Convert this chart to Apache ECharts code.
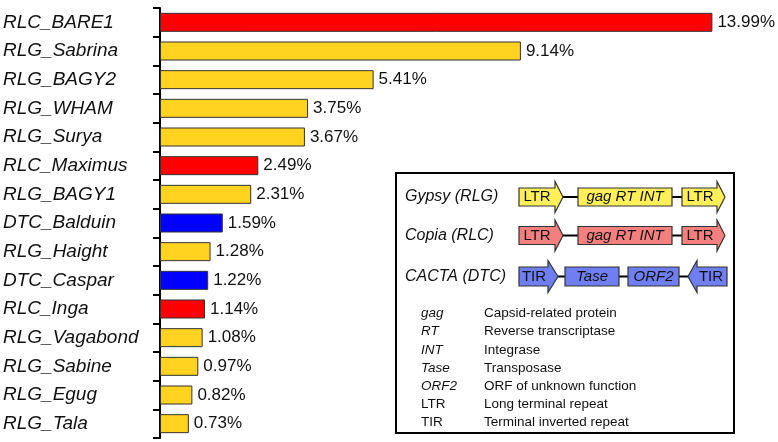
<!DOCTYPE html>
<html>
<head>
<meta charset="utf-8">
<script src="https://cdn.jsdelivr.net/npm/echarts@6/dist/echarts.min.js"></script>
<style>html,body{margin:0;padding:0;background:#fff}#c{width:778px;height:442px}</style>
</head>
<body>
<div id="c"></div>
<script>
const categories = ['RLC_BARE1','RLG_Sabrina','RLG_BAGY2','RLG_WHAM','RLG_Surya','RLC_Maximus','RLG_BAGY1','DTC_Balduin','RLG_Haight','DTC_Caspar','RLC_Inga','RLG_Vagabond','RLG_Sabine','RLG_Egug','RLG_Tala'];
const values = [13.99,9.14,5.41,3.75,3.67,2.49,2.31,1.59,1.28,1.22,1.14,1.08,0.97,0.82,0.73];
const familyColors = { RLC: '#ff0000', RLG: '#ffd320', DTC: '#0000ff' };
const legendRows = ['Gypsy (RLG)', 'Copia (RLC)', 'CACTA (DTC)'];
const abbrevs = ['gag','RT','INT','Tase','ORF2','LTR','TIR'];
const abbrevItalic = [true,true,true,true,true,false,false];
const descriptions = ['Capsid-related protein','Reverse transcriptase','Integrase','Transposase','ORF of unknown function','Long terminal repeat','Terminal inverted repeat'];

const FONT = '"Liberation Sans", Arial, sans-serif';
const chart = echarts.init(document.getElementById('c'), null, { renderer: 'canvas' });

function fwd(x0, xb, xt, cy, hb, hh) {
  return [[x0,cy-hb],[xb,cy-hb],[xb,cy-hh],[xt,cy],[xb,cy+hh],[xb,cy+hb],[x0,cy+hb]];
}
function rev(xt, xb, x1, cy, hb, hh) {
  return [[x1,cy-hb],[xb,cy-hb],[xb,cy-hh],[xt,cy],[xb,cy+hh],[xb,cy+hb],[x1,cy+hb]];
}
const graphics = [];
graphics.push({ type:'rect', z:10, shape:{x:396,y:173,width:338,height:260}, style:{fill:'#fff', stroke:'#000', lineWidth:2} });
function poly(points, fill) {
  graphics.push({ type:'polygon', z:12, shape:{points}, style:{fill, stroke:'#333', lineWidth:1.2} });
}
function rect(x, y, w, h, fill) {
  graphics.push({ type:'rect', z:12, shape:{x,y,width:w,height:h}, style:{fill, stroke:'#333', lineWidth:1.2} });
}
function txt(x, y, t, size, italic, align) {
  graphics.push({ type:'text', z:13, x, y, style:{ text:t, fill:'#111', font:(italic?'italic ':'')+size+'px '+FONT, textAlign:align||'center', textVerticalAlign:'middle' } });
}
function line(x1, x2, y) {
  graphics.push({ type:'line', z:11, shape:{x1,y1:y,x2,y2:y}, style:{stroke:'#000', lineWidth:2} });
}
const rowY = [197, 235.5, 276.5];
const rowFill = ['#fff05a', '#f47f7f', '#6f7ff2'];
legendRows.forEach((t,i)=> txt(405, rowY[i], t, 16, true, 'left'));
// Gypsy & Copia
[0,1].forEach(i=>{
  const cy = rowY[i], f = rowFill[i];
  line(560, 685, cy);
  poly(fwd(519,555,563,cy,9,15.5), f);
  rect(578, cy-9, 94, 18, f);
  poly(fwd(682,717,725,cy,9,15.5), f);
  txt(537, cy, 'LTR', 15, false);
  txt(625, cy, 'gag RT INT', 15, true);
  txt(700, cy, 'LTR', 15, false);
});
// CACTA
{
  const cy = rowY[2], f = rowFill[2];
  line(555, 692, cy);
  poly(fwd(519,548,558,cy,9.5,16), f);
  rect(565, cy-9.5, 54, 19, f);
  rect(628, cy-9.5, 51, 19, f);
  poly(rev(688,697,727,cy,9.5,16), f);
  txt(534, cy, 'TIR', 15, false);
  txt(592, cy, 'Tase', 15, true);
  txt(653.5, cy, 'ORF2', 15, true);
  txt(711, cy, 'TIR', 15, false);
}
const listY = [313,331.5,350,368,386,404,422];
abbrevs.forEach((a,i)=>{
  txt(421, listY[i], a, 13.5, abbrevItalic[i], 'left');
  txt(484, listY[i], descriptions[i], 13.5, false, 'left');
});

chart.setOption({
  animation: false,
  grid: { left: 160, top: 8, bottom: 4, width: 552.8, containLabel: false },
  xAxis: { type: 'value', min: 0, max: 14, show: false },
  yAxis: {
    type: 'category', data: categories, inverse: true,
    axisLine: { show: true, lineStyle: { color: '#000', width: 2 } },
    axisTick: { show: true, length: 7, lineStyle: { color: '#000', width: 2 } },
    axisLabel: { align: 'left', margin: 157, fontFamily: FONT, fontStyle: 'italic', fontSize: 19, color: '#111' },
    splitLine: { show: false }
  },
  series: [{
    type: 'bar', barWidth: 19,
    data: values.map((v,i)=>({ value: v, itemStyle: { color: familyColors[categories[i].slice(0,3)] } })),
    itemStyle: { borderColor: '#333', borderWidth: 1 },
    label: { show: true, position: 'right', distance: 5, formatter: p => p.value.toFixed(2) + '%', fontFamily: FONT, fontSize: 17, color: '#111' }
  }],
  graphic: graphics
});
</script>
</body>
</html>
